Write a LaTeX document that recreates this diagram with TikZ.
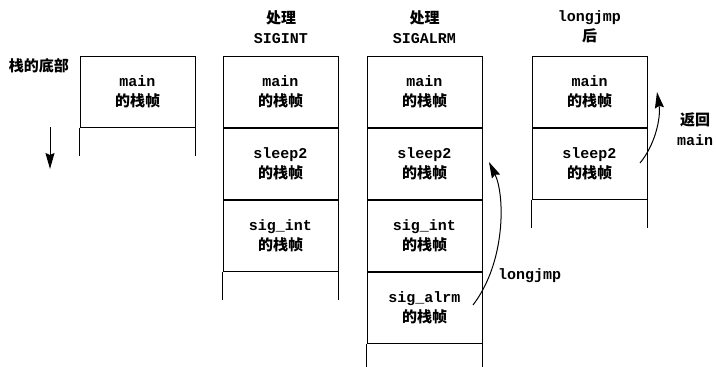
\documentclass[tikz,border=0pt]{standalone}
\usepackage{fontspec}
\setmonofont{Liberation Mono}
\newfontfamily\cjk{Noto Sans CJK SC}
\usetikzlibrary{arrows.meta}
\newcommand{\mt}[1]{{\ttfamily\bfseries #1}}
\newcommand{\zh}[1]{{\cjk\bfseries #1}}
\begin{document}
\begin{tikzpicture}[x=1pt,y=-1pt,
  cell/.style={draw,line width=1pt,minimum width=115pt,minimum height=71pt,inner sep=0pt,
    align=center,font=\fontsize{15}{20}\selectfont},
  tail/.style={line width=1pt},
  txt/.style={inner sep=0pt,align=center,font=\fontsize{15}{20}\selectfont},
  arr/.style={line width=1pt,-{Stealth[length=16pt,width=9pt,inset=2pt]}}]
\useasboundingbox (0,0) rectangle (716,367);
% stack 1
\node[txt] (bot) at (39,66) {\zh{栈的底部}};
\node[cell] (a1) at (137.5,91.5) {\mt{main}\\\zh{的栈帧}};
\draw[tail] (a1.south west) -- ++(0,28);
\draw[tail] (a1.south east) -- ++(0,28);
\coordinate (d1) at (50,127);
\coordinate (d2) at (50,169);
\draw[arr] (d1) -- (d2);
% stack 2
\node[txt] (h2) at (281,27) {\zh{处理}\\\mt{SIGINT}};
\node[cell] (b1) at (280.5,91.5) {\mt{main}\\\zh{的栈帧}};
\node[cell,anchor=north] (b2) at (b1.south) {\mt{sleep2}\\\zh{的栈帧}};
\node[cell,anchor=north] (b3) at (b2.south) {\mt{sig\_int}\\\zh{的栈帧}};
\draw[tail] (b3.south west) -- ++(0,28);
\draw[tail] (b3.south east) -- ++(0,28);
% stack 3
\node[txt] (h3) at (424.5,27) {\zh{处理}\\\mt{SIGALRM}};
\node[cell] (c1) at (424.5,91.5) {\mt{main}\\\zh{的栈帧}};
\node[cell,anchor=north] (c2) at (c1.south) {\mt{sleep2}\\\zh{的栈帧}};
\node[cell,anchor=north] (c3) at (c2.south) {\mt{sig\_int}\\\zh{的栈帧}};
\node[cell,anchor=north] (c4) at (c3.south) {\mt{sig\_alrm}\\\zh{的栈帧}};
\draw[tail] (c4.south west) -- ++(0,30);
\draw[tail] (c4.south east) -- ++(0,30);
% stack 4
\node[txt] (h4) at (589.5,27) {\mt{longjmp}\\\zh{后}};
\node[cell] (e1) at (589.5,91.5) {\mt{main}\\\zh{的栈帧}};
\node[cell,anchor=north] (e2) at (e1.south) {\mt{sleep2}\\\zh{的栈帧}};
\draw[tail] (e2.south west) -- ++(0,28);
\draw[tail] (e2.south east) -- ++(0,28);
% longjmp arrow
\coordinate (l1) at (473,305);
\coordinate (l2) at (489,162);
\draw[arr] (l1) .. controls (506,262) and (505,195) .. (l2);
\node[txt,anchor=west] (lj) at (498,276) {\mt{longjmp}};
% return arrow
\coordinate (r1) at (640,163);
\coordinate (r2) at (657,92);
\draw[arr] (r1) .. controls (655,145) and (661,118) .. (r2);
\node[txt] (rm) at (695,129) {\zh{返回}\\\mt{main}};
\end{tikzpicture}
\end{document}
